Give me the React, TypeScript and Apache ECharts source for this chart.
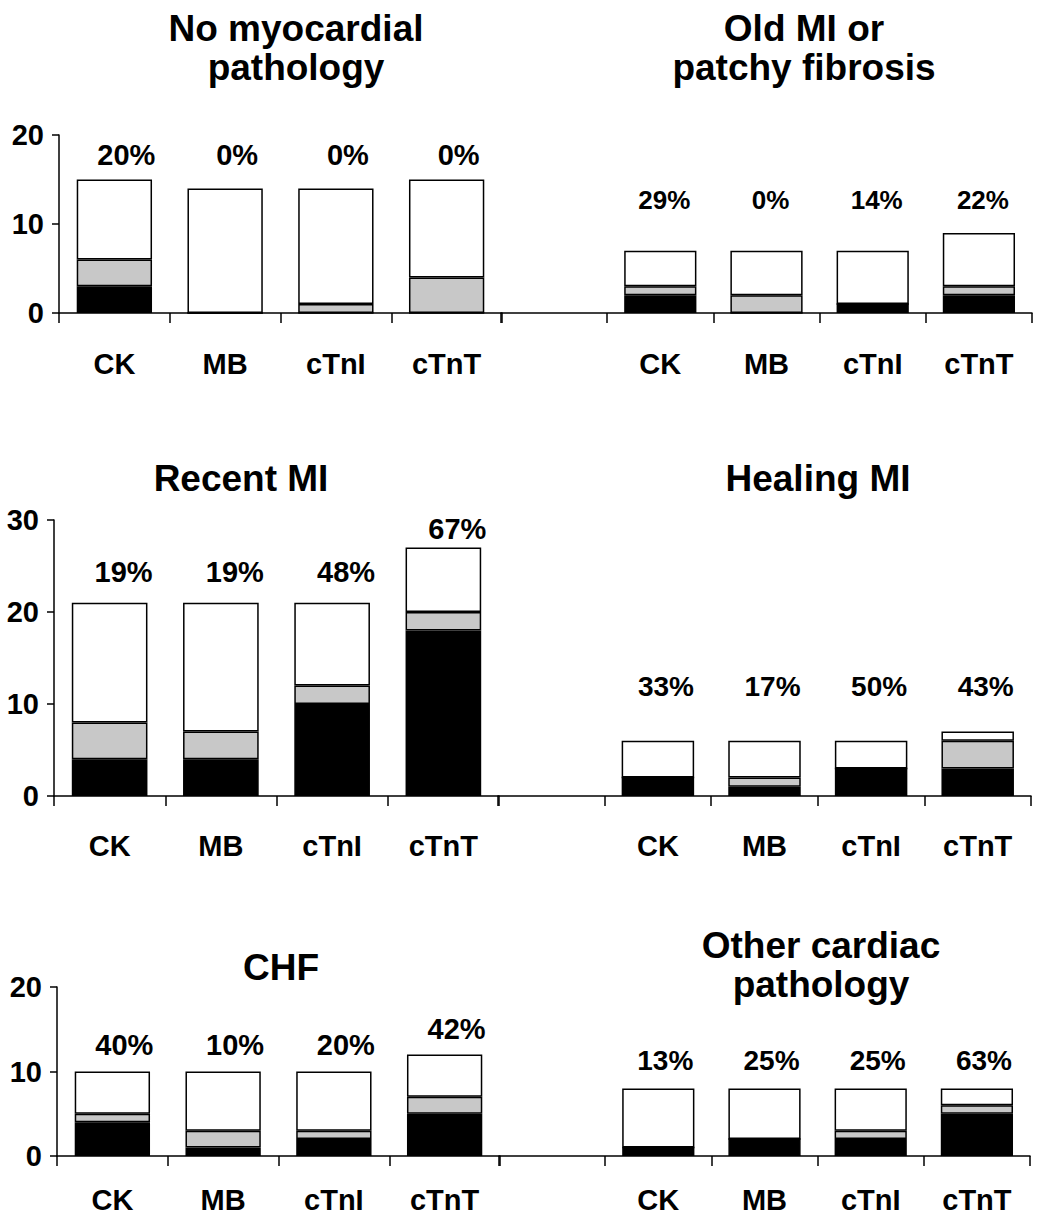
import React, { useEffect, useRef } from "react";
import * as echarts from "echarts";

// ---------- data ----------
const categories = ["CK", "MB", "cTnI", "cTnT"];

const noPathBlack = [3, 0, 0, 0];
const noPathGray = [3, 0, 1, 4];
const noPathWhite = [9, 14, 13, 11];
const noPathPct = ["20%", "0%", "0%", "0%"];

const oldMiBlack = [2, 0, 1, 2];
const oldMiGray = [1, 2, 0, 1];
const oldMiWhite = [4, 5, 6, 6];
const oldMiPct = ["29%", "0%", "14%", "22%"];

const recentBlack = [4, 4, 10, 18];
const recentGray = [4, 3, 2, 2];
const recentWhite = [13, 14, 9, 7];
const recentPct = ["19%", "19%", "48%", "67%"];

const healingBlack = [2, 1, 3, 3];
const healingGray = [0, 1, 0, 3];
const healingWhite = [4, 4, 3, 1];
const healingPct = ["33%", "17%", "50%", "43%"];

const chfBlack = [4, 1, 2, 5];
const chfGray = [1, 2, 1, 2];
const chfWhite = [5, 7, 7, 5];
const chfPct = ["40%", "10%", "20%", "42%"];

const otherBlack = [1, 2, 2, 5];
const otherGray = [0, 0, 1, 1];
const otherWhite = [7, 6, 5, 2];
const otherPct = ["13%", "25%", "25%", "63%"];

const row1Max = 20;
const row2Max = 30;
const row3Max = 20;
const yInterval = 10;

// ---------- layout (positions / styles) ----------
const FONT = '"Liberation Sans", Arial, Helvetica, sans-serif';

const panels = [
  { black: noPathBlack, gray: noPathGray, white: noPathWhite, pct: noPathPct, right: false,
    grid: { left: 59, top: 135, width: 443, height: 178 }, max: row1Max,
    labelLevel: [17.75, 17.75, 17.75, 17.75], labelSize: 29, labelDx: 12, catMargin: 36 },
  { black: oldMiBlack, gray: oldMiGray, white: oldMiWhite, pct: oldMiPct, right: true,
    grid: { left: 501, top: 135, width: 531, height: 178 }, max: row1Max,
    labelLevel: [12.7, 12.7, 12.7, 12.7], labelSize: 26, labelDx: 4, catMargin: 36 },
  { black: recentBlack, gray: recentGray, white: recentWhite, pct: recentPct, right: false,
    grid: { left: 54, top: 520, width: 445, height: 276 }, max: row2Max,
    labelLevel: [24.35, 24.35, 24.35, 29.0], labelSize: 29, labelDx: 14, catMargin: 35 },
  { black: healingBlack, gray: healingGray, white: healingWhite, pct: healingPct, right: true,
    grid: { left: 498, top: 520, width: 533, height: 276 }, max: row2Max,
    labelLevel: [11.85, 11.85, 11.85, 11.85], labelSize: 28, labelDx: 8, catMargin: 35 },
  { black: chfBlack, gray: chfGray, white: chfWhite, pct: chfPct, right: false,
    grid: { left: 57, top: 987, width: 443, height: 169 }, max: row3Max,
    labelLevel: [13.1, 13.1, 13.1, 15.0], labelSize: 29, labelDx: 12, catMargin: 29 },
  { black: otherBlack, gray: otherGray, white: otherWhite, pct: otherPct, right: true,
    grid: { left: 499, top: 987, width: 531, height: 169 }, max: row3Max,
    labelLevel: [11.36, 11.36, 11.36, 11.36], labelSize: 28, labelDx: 7, catMargin: 29 },
];

const titles = [
  { text: "No myocardial\npathology", x: 296, y: 48 },
  { text: "Old MI or\npatchy fibrosis", x: 804, y: 48 },
  { text: "Recent MI", x: 241, y: 478 },
  { text: "Healing MI", x: 818, y: 478 },
  { text: "CHF", x: 281, y: 967 },
  { text: "Other cardiac\npathology", x: 821, y: 965 },
];

function buildOption() {
  const grid: any[] = [];
  const xAxis: any[] = [];
  const yAxis: any[] = [];
  const series: any[] = [];
  const axisLineStyle = { color: "#000", width: 1.5 };

  panels.forEach((p, i) => {
    grid.push({ ...p.grid, containLabel: false });
    const cats = p.right ? ["", ...categories] : categories;
    const pad = (arr: any[]) => (p.right ? ["-", ...arr] : arr);
    xAxis.push({
      type: "category",
      gridIndex: i,
      data: cats,
      boundaryGap: true,
      axisLine: { show: true, lineStyle: axisLineStyle },
      axisTick: { show: true, length: 10, lineStyle: axisLineStyle },
      axisLabel: {
        color: "#000", fontSize: 29, fontWeight: "bold", fontFamily: FONT,
        margin: p.catMargin, interval: 0,
      },
      splitLine: { show: false },
    });
    yAxis.push({
      type: "value",
      gridIndex: i,
      min: 0,
      max: p.max,
      interval: yInterval,
      show: !p.right,
      axisLine: { show: true, lineStyle: axisLineStyle },
      axisTick: { show: true, length: 7, lineStyle: axisLineStyle },
      axisLabel: {
        color: "#000", fontSize: 29, fontWeight: "bold", fontFamily: FONT, margin: 15,
      },
      splitLine: { show: false },
    });
    const stack = "s" + i;
    const common = {
      type: "bar",
      xAxisIndex: i,
      yAxisIndex: i,
      stack,
      barCategoryGap: "32%",
    };
    series.push({
      ...common,
      name: "black" + i,
      data: pad(p.black),
      itemStyle: { color: "#000", borderColor: "#000", borderWidth: 1.5 },
    });
    series.push({
      ...common,
      name: "gray" + i,
      data: pad(p.gray),
      itemStyle: { color: "#c8c8c8", borderColor: "#000", borderWidth: 1.5 },
    });
    series.push({
      ...common,
      name: "white" + i,
      data: pad(p.white),
      itemStyle: { color: "#fff", borderColor: "#000", borderWidth: 1.5 },
    });
    series.push({
      type: "scatter",
      xAxisIndex: i,
      yAxisIndex: i,
      symbolSize: 1,
      itemStyle: { color: "rgba(255,255,255,0)" },
      z: 10,
      silent: true,
      data: p.pct.map((t, k) => ({
        value: [p.right ? k + 1 : k, p.labelLevel[k]],
        label: { formatter: t },
      })),
      label: {
        show: true,
        position: "inside",
        offset: [p.labelDx, 0],
        color: "#000",
        opacity: 1,
        textBorderWidth: 0,
        textBorderColor: "transparent",
        textShadowBlur: 0,
        fontSize: p.labelSize,
        fontWeight: "bold",
        fontFamily: FONT,
      },
    });
  });

  const graphic = titles.map((t) => ({
    type: "text",
    x: t.x,
    y: t.y,
    style: {
      text: t.text,
      fill: "#000",
      fontSize: 37,
      fontWeight: "bold",
      fontFamily: FONT,
      lineHeight: 39,
      align: "center",
      verticalAlign: "middle",
    },
  }));

  return {
    animation: false,
    backgroundColor: "#fff",
    grid,
    xAxis,
    yAxis,
    series,
    graphic,
  };
}

export default function App() {
  const ref = useRef<HTMLDivElement>(null);
  useEffect(() => {
    if (!ref.current) return;
    const chart = echarts.init(ref.current, undefined, { renderer: "svg" });
    chart.setOption(buildOption());
    return () => chart.dispose();
  }, []);
  return (
    <div
      ref={ref}
      style={{ position: "absolute", left: 0, top: 0, width: 1044, height: 1217 }}
    />
  );
}
